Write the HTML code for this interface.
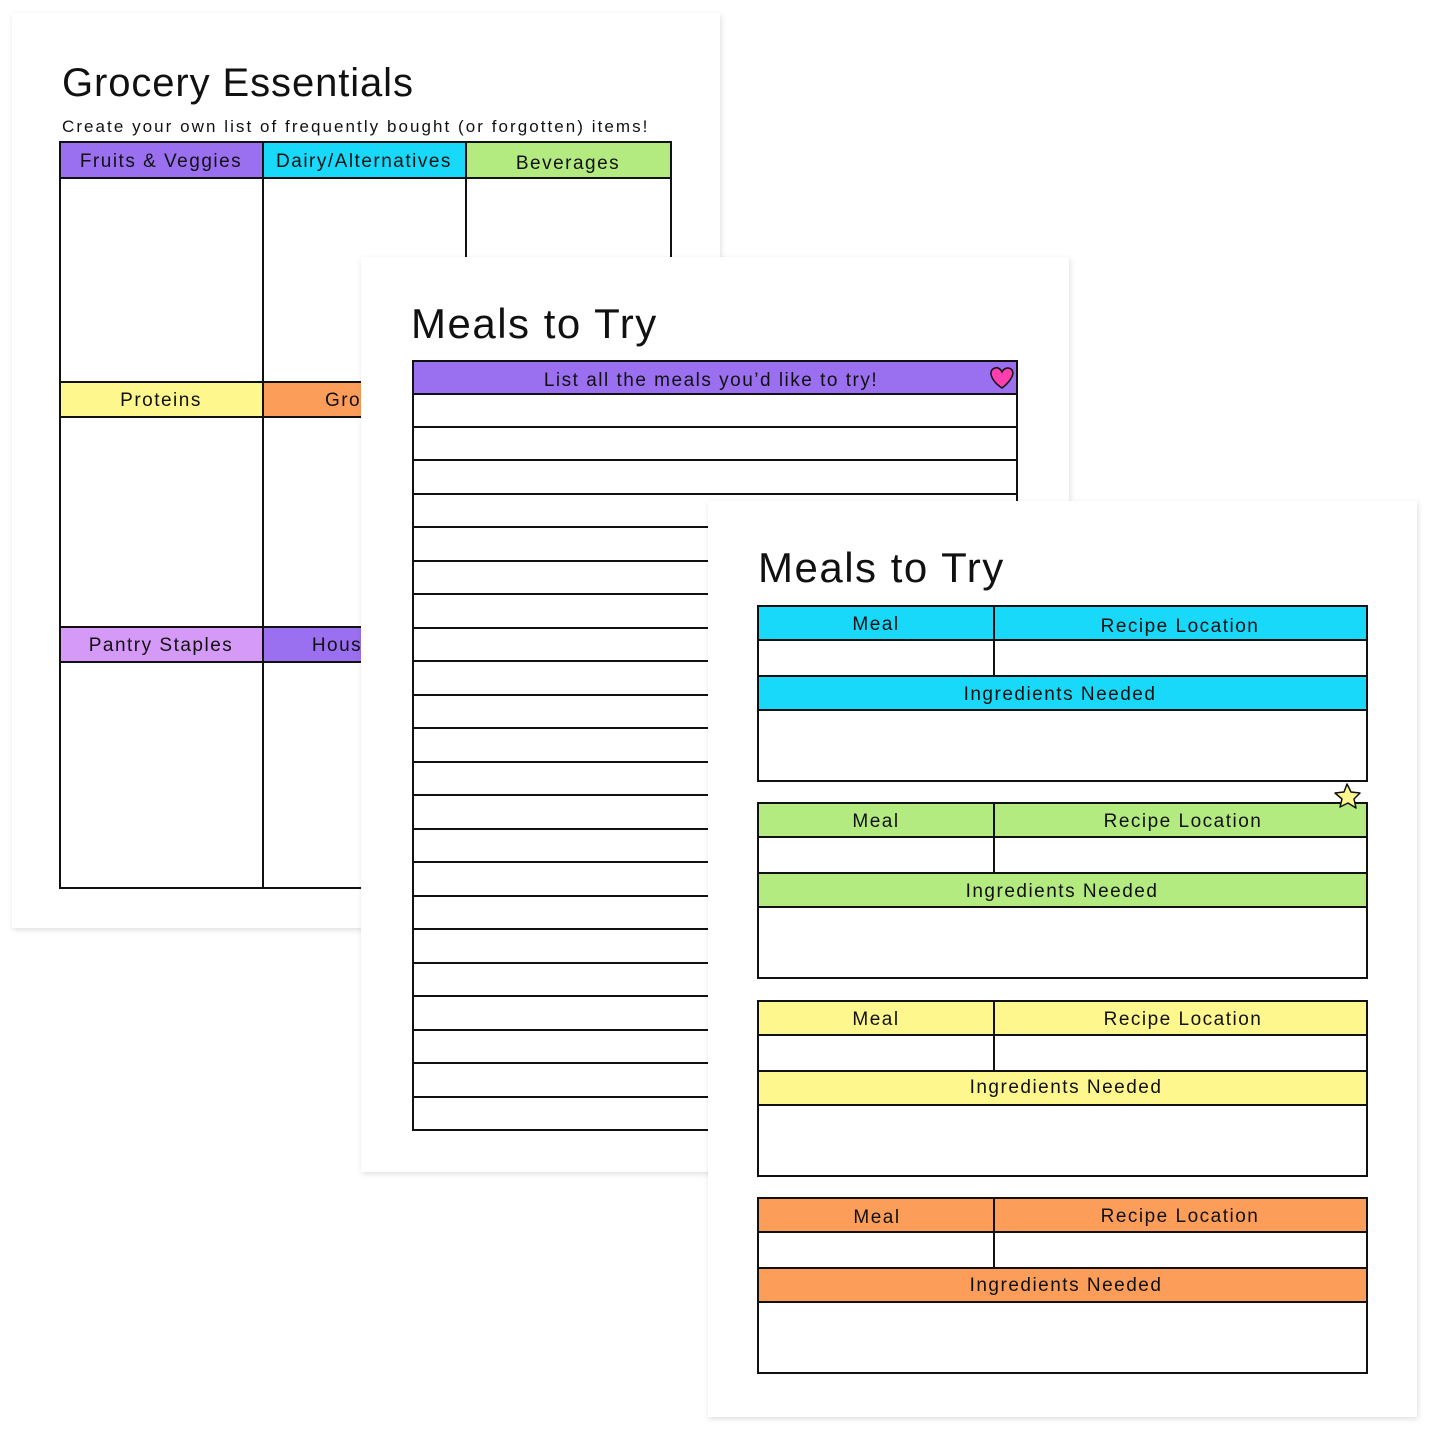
<!DOCTYPE html>
<html><head><meta charset="utf-8"><style>
html,body{margin:0;padding:0;background:#fff;}
svg{display:block}
text{font-family:"Liberation Sans",sans-serif;fill:#111;}
</style></head><body>
<svg width="1445" height="1445" viewBox="0 0 1445 1445" xmlns="http://www.w3.org/2000/svg">
<defs>
<filter id="sh" x="-5%" y="-5%" width="110%" height="110%">
<feDropShadow dx="1" dy="2" stdDeviation="3" flood-color="#000" flood-opacity="0.13"/>
</filter>
</defs>

<!-- PAGE 1 -->
<rect x="12" y="13" width="708" height="915" fill="#fff" filter="url(#sh)"/>
<text x="62" y="96" font-size="40" letter-spacing="0.9">Grocery Essentials</text>
<text x="62" y="132" font-size="17" letter-spacing="2.05">Create your own list of frequently bought (or forgotten) items!</text>
<g stroke="#111" stroke-width="2">
<rect x="60" y="142" width="203" height="36" fill="#9a6ff0"/>
<rect x="263" y="142" width="203" height="36" fill="#19d9fb"/>
<rect x="466" y="142" width="205" height="36" fill="#b4eb80"/>
<rect x="60" y="382" width="203" height="35" fill="#fef78d"/>
<rect x="263" y="382" width="203" height="35" fill="#fd9d5a"/>
<rect x="466" y="382" width="205" height="35" fill="#19d9fb"/>
<rect x="60" y="627" width="203" height="35" fill="#d59af8"/>
<rect x="263" y="627" width="203" height="35" fill="#9a6ff0"/>
<rect x="466" y="627" width="205" height="35" fill="#fef78d"/>
<rect x="60" y="142" width="611" height="746" fill="none"/>
<line x1="263" y1="142" x2="263" y2="888"/>
<line x1="466" y1="142" x2="466" y2="888"/>
</g>
<g font-size="19" text-anchor="middle" letter-spacing="1.5">
<text x="161" y="167">Fruits &amp; Veggies</text>
<text x="364" y="167">Dairy/Alternatives</text>
<text x="568" y="169">Beverages</text>
<text x="161" y="406">Proteins</text>
<text x="364" y="406">Grocery</text>
<text x="161" y="651">Pantry Staples</text>
<text x="364" y="651">Household</text>
</g>

<!-- PAGE 2 -->
<rect x="361" y="257" width="708" height="915" fill="#fff" filter="url(#sh)"/>
<text x="411" y="338" font-size="42" letter-spacing="1.5">Meals to Try</text>
<rect x="413" y="361" width="604" height="33" fill="#9a6ff0" stroke="#111" stroke-width="2"/>
<text x="711" y="386" font-size="19" text-anchor="middle" letter-spacing="1.5">List all the meals you’d like to try!</text>
<path d="M1002 388 C990 380 988 370 995 368 C999 367 1001 370 1002 372 C1004 368 1008 367 1011 369 C1016 373 1010 382 1002 388 Z" fill="#ff3fb0" stroke="#111" stroke-width="1.5"/>
<g stroke="#111" stroke-width="2" fill="none">
<rect x="413" y="361" width="604" height="769"/>
<path d="M413 427H1017M413 460H1017M413 494H1017M413 527H1017M413 561H1017M413 594H1017M413 628H1017M413 661H1017M413 695H1017M413 728H1017M413 762H1017M413 795H1017M413 829H1017M413 862H1017M413 896H1017M413 929H1017M413 963H1017M413 996H1017M413 1030H1017M413 1063H1017M413 1097H1017"/>
</g>

<!-- PAGE 3 -->
<rect x="708" y="501" width="709" height="916" fill="#fff" filter="url(#sh)"/>
<text x="758" y="582" font-size="42" letter-spacing="1.5">Meals to Try</text>

<g>
<g stroke="#111" stroke-width="2">
<rect x="758" y="606" width="609" height="34" fill="#19d9fb"/>
<rect x="758" y="676" width="609" height="34" fill="#19d9fb"/>
<rect x="758" y="606" width="609" height="175" fill="none"/>
<line x1="758" y1="640" x2="1367" y2="640"/>
<line x1="994" y1="606" x2="994" y2="676"/>
</g>
<g font-size="19" text-anchor="middle" letter-spacing="1.5">
<text x="876" y="630">Meal</text><text x="1180" y="632">Recipe Location</text>
<text x="1060" y="700">Ingredients Needed</text>
</g>
</g>

<g transform="translate(0,197)">
<g stroke="#111" stroke-width="2">
<rect x="758" y="606" width="609" height="34" fill="#b4eb80"/>
<rect x="758" y="676" width="609" height="34" fill="#b4eb80"/>
<rect x="758" y="606" width="609" height="175" fill="none"/>
<line x1="758" y1="640" x2="1367" y2="640"/>
<line x1="994" y1="606" x2="994" y2="676"/>
</g>
<g font-size="19" text-anchor="middle" letter-spacing="1.5">
<text x="876" y="630">Meal</text><text x="1183" y="630">Recipe Location</text>
<text x="1062" y="700">Ingredients Needed</text>
</g>
</g>

<g transform="translate(0,395)">
<g stroke="#111" stroke-width="2">
<rect x="758" y="606" width="609" height="34" fill="#fef78d"/>
<rect x="758" y="676" width="609" height="34" fill="#fef78d"/>
<rect x="758" y="606" width="609" height="175" fill="none"/>
<line x1="758" y1="640" x2="1367" y2="640"/>
<line x1="994" y1="606" x2="994" y2="676"/>
</g>
<g font-size="19" text-anchor="middle" letter-spacing="1.5">
<text x="876" y="630">Meal</text><text x="1183" y="630">Recipe Location</text>
<text x="1066" y="698">Ingredients Needed</text>
</g>
</g>

<g transform="translate(0,592)">
<g stroke="#111" stroke-width="2">
<rect x="758" y="606" width="609" height="34" fill="#fd9d5a"/>
<rect x="758" y="676" width="609" height="34" fill="#fd9d5a"/>
<rect x="758" y="606" width="609" height="175" fill="none"/>
<line x1="758" y1="640" x2="1367" y2="640"/>
<line x1="994" y1="606" x2="994" y2="676"/>
</g>
<g font-size="19" text-anchor="middle" letter-spacing="1.5">
<text x="877" y="631">Meal</text><text x="1180" y="630">Recipe Location</text>
<text x="1066" y="699">Ingredients Needed</text>
</g>
</g>

<!-- star -->
<path d="M1347 784 L1351 792 L1360 793 L1354 799 L1356 808 L1348 803 L1340 807 L1342 799 L1335 793 L1344 792 Z" fill="#fef78d" stroke="#111" stroke-width="1.5" stroke-linejoin="round"/>
</svg>
</body></html>
